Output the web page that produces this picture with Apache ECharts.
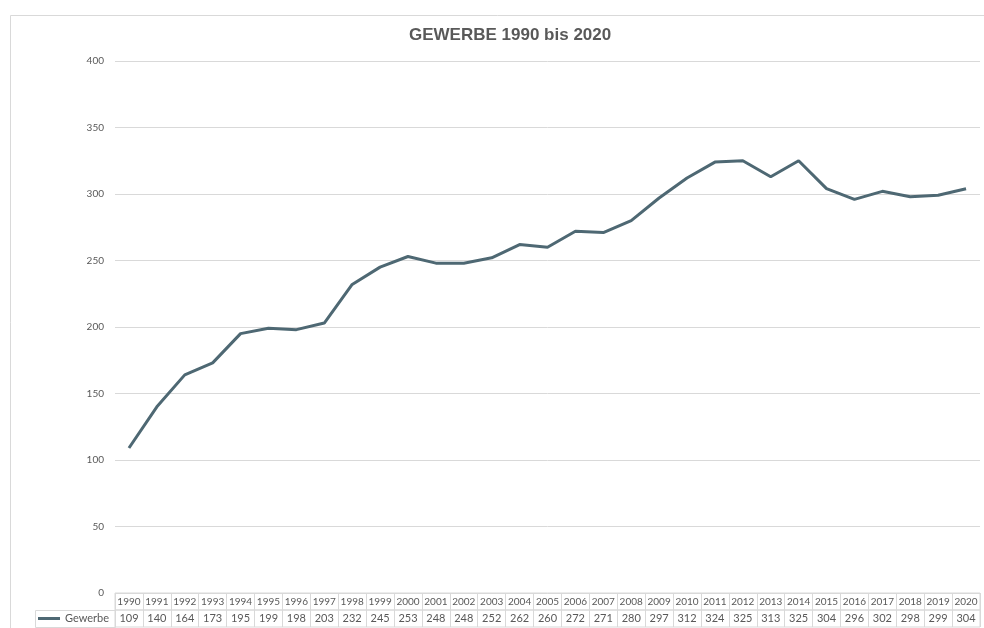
<!DOCTYPE html>
<html>
<head>
<meta charset="utf-8">
<script src="https://cdn.jsdelivr.net/npm/echarts@6/dist/echarts.min.js"></script>
<style>
    html, body { margin: 0; padding: 0; background: #fff; }
    #main { width: 984px; height: 628px; }
</style>
</head>
<body>
<div id="main"></div>
<script>
// Daten
var years = ['1990','1991','1992','1993','1994','1995','1996','1997','1998','1999','2000',
    '2001','2002','2003','2004','2005','2006','2007','2008','2009','2010',
    '2011','2012','2013','2014','2015','2016','2017','2018','2019','2020'];
var gewerbe = [109,140,164,173,195,199,198,203,232,245,253,
    248,248,252,262,260,272,271,280,297,312,
    324,325,313,325,304,296,302,298,299,304];
var yTicks = [0, 400, 50]; // min, max, interval

var textColor = '#595959';
var gridColor = '#d9d9d9';
var tableFont = 'Lato, "Open Sans", sans-serif';

var myChart = echarts.init(document.getElementById('main'));

var option = {
    animation: false,
    title: {
        text: 'GEWERBE 1990 bis 2020',
        left: 404,
        top: 22,
        textStyle: { fontFamily: '"Liberation Sans", Arial', fontSize: 17, fontWeight: 'bold', color: textColor }
    },
    legend: {
        left: 38,
        top: 613,
        padding: 0,
        icon: 'rect',
        itemWidth: 22,
        itemHeight: 3,
        textStyle: { fontFamily: tableFont, fontSize: 11, color: textColor },
        data: ['Gewerbe']
    },
    graphic: [
        // Rahmen Diagrammbereich
        { type: 'rect', shape: { x: 10.5, y: 15.5, width: 990, height: 630 }, style: { fill: 'none', stroke: gridColor } },
        // Kopfzelle der Tabelle
        { type: 'rect', shape: { x: 35.5, y: 610.5, width: 80, height: 17 }, style: { fill: 'none', stroke: gridColor } }
    ],
    grid: [
        { left: 115, right: 4, top: 61, bottom: 35 },
        { left: 115, right: 4, top: 593, height: 17, show: true, borderColor: gridColor },
        { left: 115, right: 4, top: 610, height: 17, show: true, borderColor: gridColor }
    ],
    xAxis: [
        {
            gridIndex: 0, type: 'category', data: years,
            axisLine: { show: false }, axisTick: { show: false }, axisLabel: { show: false }
        },
        {
            gridIndex: 1, type: 'category', data: years,
            axisLine: { show: false }, axisTick: { show: false },
            splitLine: { show: true, interval: 0, lineStyle: { color: gridColor } },
            axisLabel: { inside: true, margin: 3, interval: 0, fontFamily: tableFont, fontSize: 10, color: textColor }
        },
        {
            gridIndex: 2, type: 'category', data: gewerbe.map(String),
            axisLine: { show: false }, axisTick: { show: false },
            splitLine: { show: true, interval: 0, lineStyle: { color: gridColor } },
            axisLabel: { inside: true, margin: 3, interval: 0, fontFamily: tableFont, fontSize: 11, color: textColor }
        }
    ],
    yAxis: [
        {
            gridIndex: 0, type: 'value', min: yTicks[0], max: yTicks[1], interval: yTicks[2],
            axisLine: { show: false }, axisTick: { show: false },
            axisLabel: { margin: 11, fontFamily: tableFont, fontSize: 10, color: textColor },
            splitLine: { lineStyle: { color: gridColor } }
        },
        { gridIndex: 1, type: 'value', show: false },
        { gridIndex: 2, type: 'value', show: false }
    ],
    series: [
        {
            name: 'Gewerbe',
            type: 'line',
            xAxisIndex: 0,
            yAxisIndex: 0,
            data: gewerbe,
            symbol: 'none',
            lineStyle: { color: '#4e6873', width: 3 },
            itemStyle: { color: '#4e6873' }
        }
    ]
};

myChart.setOption(option);
</script>
</body>
</html>
